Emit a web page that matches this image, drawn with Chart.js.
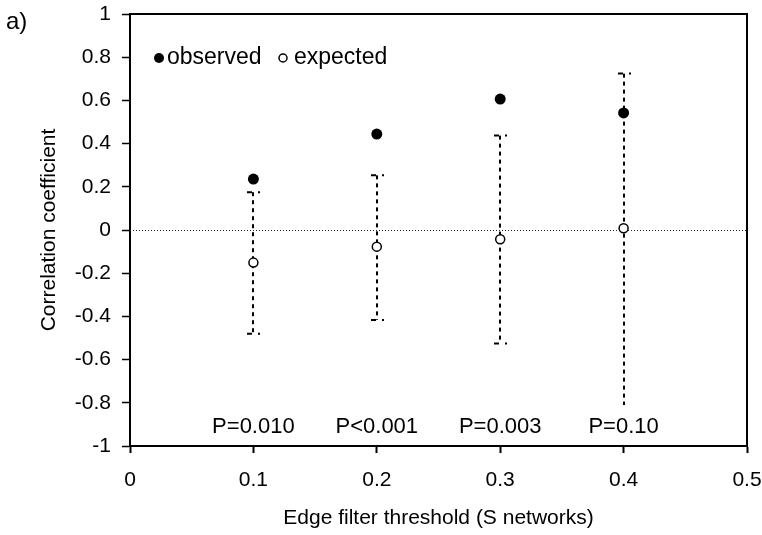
<!DOCTYPE html>
<html>
<head>
<meta charset="utf-8">
<script src="https://cdn.jsdelivr.net/npm/chart.js@4/dist/chart.umd.min.js"></script>
<style>
  html, body { margin: 0; padding: 0; background: #fff; }
  #wrap { width: 762px; height: 535px; position: relative; }
</style>
</head>
<body>
<div id="wrap"><canvas id="corrChart"></canvas></div>
<script>
// 閾値（x）
const thresholds = [0.1, 0.2, 0.3, 0.4];
// 観測値
const observed = [0.236, 0.444, 0.606, 0.542];
// 期待値とその範囲
const expected = [-0.151, -0.077, -0.043, 0.008];
const expectedLow = [-0.48, -0.417, -0.526, -0.81];
const expectedHigh = [0.175, 0.253, 0.437, 0.724];
// P値ラベル
const pLabels = ['P=0.010', 'P<0.001', 'P=0.003', 'P=0.10'];
// 軸目盛り
const xTicks = [0, 0.1, 0.2, 0.3, 0.4, 0.5];
const yTicks = [-1, -0.8, -0.6, -0.4, -0.2, 0, 0.2, 0.4, 0.6, 0.8, 1];

const FONT = 'Liberation Sans, Arial, sans-serif';

// 枠・ゼロ線・エラーバー・凡例などを描くプラグイン
const decorPlugin = {
    id: 'decor',
    beforeDatasetsDraw(chart) {
        const { ctx, chartArea: a, scales: { x, y } } = chart;
        ctx.save();

        // ゼロの点線
        const y0 = y.getPixelForValue(0);
        ctx.strokeStyle = '#222';
        ctx.lineWidth = 1;
        ctx.setLineDash([1, 2]);
        ctx.beginPath();
        ctx.moveTo(a.left, y0 + 0.5);
        ctx.lineTo(a.right, y0 + 0.5);
        ctx.stroke();

        // エラーバー（破線）
        ctx.strokeStyle = '#000';
        ctx.lineWidth = 2;
        thresholds.forEach((t, i) => {
            const px = Math.round(x.getPixelForValue(t));
            const top = y.getPixelForValue(expectedHigh[i]);
            const bot = y.getPixelForValue(expectedLow[i]);
            ctx.setLineDash([4, 4]);
            ctx.beginPath();
            ctx.moveTo(px, top);
            ctx.lineTo(px, bot);
            ctx.stroke();
            // キャップ（最後の下端は元図でも見えない）
            ctx.setLineDash([5, 6, 2, 10]);
            const caps = i === thresholds.length - 1 ? [top] : [top, bot];
            caps.forEach(cy => {
                ctx.beginPath();
                ctx.moveTo(px - 6, cy);
                ctx.lineTo(px + 8, cy);
                ctx.stroke();
            });
        });
        ctx.restore();
    },
    afterDraw(chart) {
        const { ctx, chartArea: a, scales: { x, y } } = chart;
        ctx.save();

        // 上と右の枠線
        ctx.strokeStyle = '#000';
        ctx.lineWidth = 2;
        ctx.beginPath();
        ctx.moveTo(a.left, a.top);
        ctx.lineTo(a.right, a.top);
        ctx.lineTo(a.right, a.bottom);
        ctx.stroke();

        // P値
        ctx.fillStyle = '#000';
        ctx.font = '22px ' + FONT;
        ctx.textAlign = 'center';
        ctx.textBaseline = 'middle';
        pLabels.forEach((txt, i) => {
            ctx.fillText(txt, x.getPixelForValue(thresholds[i]), y.getPixelForValue(-0.91));
        });

        // 凡例
        const ly = 58;
        ctx.font = '23px ' + FONT;
        ctx.textAlign = 'left';
        ctx.beginPath();
        ctx.arc(159, ly, 5, 0, Math.PI * 2);
        ctx.fill();
        ctx.fillText('observed', 167, ly);
        ctx.lineWidth = 1.5;
        ctx.beginPath();
        ctx.arc(283, ly, 4, 0, Math.PI * 2);
        ctx.stroke();
        ctx.fillText('expected', 294, ly);

        // パネル記号
        ctx.font = '24px ' + FONT;
        ctx.fillText('a)', 6, 22);
        ctx.restore();
    }
};

new Chart(document.getElementById('corrChart'), {
    type: 'scatter',
    data: {
        datasets: [
            {
                label: 'expected',
                data: thresholds.map((t, i) => ({ x: t, y: expected[i] })),
                pointRadius: 4.5,
                pointBackgroundColor: '#fff',
                pointBorderColor: '#000',
                pointBorderWidth: 1.5
            },
            {
                label: 'observed',
                data: thresholds.map((t, i) => ({ x: t, y: observed[i] })),
                pointRadius: 5.5,
                pointBackgroundColor: '#000',
                pointBorderColor: '#000',
                pointBorderWidth: 0
            }
        ]
    },
    options: {
        responsive: true,
        maintainAspectRatio: false,
        animation: false,
        layout: { padding: { top: 14, right: 15, left: 0, bottom: 0 } },
        plugins: {
            legend: { display: false },
            tooltip: { enabled: false }
        },
        scales: {
            x: {
                type: 'linear',
                min: 0,
                max: 0.5,
                afterBuildTicks: s => { s.ticks = xTicks.map(v => ({ value: v })); },
                afterFit: s => { s.height = 89; s.paddingLeft = 0; s.paddingRight = 0; },
                border: { color: '#000', width: 2 },
                grid: { drawOnChartArea: false, drawTicks: true, tickLength: 7, tickWidth: 2, tickColor: '#000' },
                ticks: {
                    color: '#000',
                    font: { family: FONT, size: 21 },
                    padding: 15,
                    callback: v => String(+v.toFixed(1))
                },
                title: {
                    display: true,
                    text: 'Edge filter threshold (S networks)',
                    color: '#000',
                    font: { family: FONT, size: 21 },
                    padding: { top: 0, bottom: 4 }
                }
            },
            y: {
                type: 'linear',
                min: -1,
                max: 1,
                afterBuildTicks: s => { s.ticks = yTicks.map(v => ({ value: v })); },
                afterFit: s => { s.width = 130; s.paddingTop = 0; s.paddingBottom = 0; },
                border: { color: '#000', width: 2 },
                grid: { drawOnChartArea: false, drawTicks: true, tickLength: 8, tickWidth: 1.5, tickColor: '#000' },
                ticks: {
                    color: '#000',
                    font: { family: FONT, size: 21 },
                    padding: 11,
                    callback: v => String(+v.toFixed(1))
                },
                title: {
                    display: true,
                    text: 'Correlation coefficient',
                    color: '#000',
                    font: { family: FONT, size: 21 },
                    padding: { top: 37, bottom: 0 }
                }
            }
        }
    },
    plugins: [decorPlugin]
});
</script>
</body>
</html>
